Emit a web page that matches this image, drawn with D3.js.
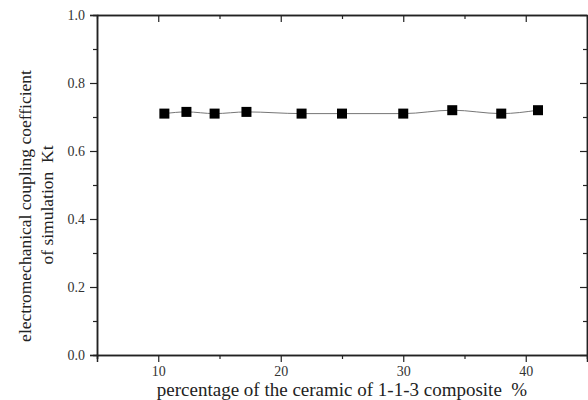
<!DOCTYPE html>
<html>
<head>
<meta charset="utf-8">
<script src="https://cdn.jsdelivr.net/npm/d3@7"></script>
<style>
body { margin: 0; background: #fff; }
text { font-family: "Liberation Serif", "Times New Roman", serif; fill: #222; white-space: pre; }
</style>
</head>
<body>
<svg id="chart" width="588" height="400"></svg>
<script>
// ceramic percentage (%) and simulated Kt
var percent = [10.5, 12.3, 14.6, 17.2, 21.7, 25, 30, 34, 38, 41];
var kt = [0.71, 0.715, 0.71, 0.715, 0.71, 0.71, 0.71, 0.72, 0.71, 0.72];
var xMajor = [10, 20, 30, 40];
var xMinor = [5, 15, 25, 35, 45];
var yMajor = [0, 0.2, 0.4, 0.6, 0.8, 1.0];
var yMinor = [0.1, 0.3, 0.5, 0.7, 0.9];

var serif = '"Liberation Serif", "Times New Roman", serif';

var svg = d3.select('#chart'),
    margin = {top: 15, right: 1, bottom: 45, left: 97},
    width = 588 - margin.left - margin.right,
    height = 400 - margin.top - margin.bottom;

var g = svg.append('g').attr('transform', 'translate(' + margin.left + ',' + margin.top + ')');

var x = d3.scaleLinear().domain([5, 45]).range([0, width]);
var y = d3.scaleLinear().domain([0, 1]).range([height, 0]);

function styleAxis(sel) {
    sel.attr('font-family', serif);
    sel.select('.domain').attr('stroke', '#222').attr('stroke-width', 1.5);
    sel.selectAll('.tick line').attr('stroke', '#222').attr('stroke-width', 1.2);
    sel.selectAll('text').style('font-size', '14px').style('fill', '#333').style('font-family', serif);
}

// bottom axis, ticks outward
g.append('g').attr('transform', 'translate(0,' + height + ')')
    .call(d3.axisBottom(x).tickValues(xMajor).tickSize(7).tickPadding(4).tickFormat(d3.format('d')))
    .call(styleAxis);
g.append('g').attr('transform', 'translate(0,' + height + ')')
    .call(d3.axisBottom(x).tickValues(xMinor).tickSize(4).tickFormat(''))
    .call(styleAxis);

// left axis, ticks outward
g.append('g')
    .call(d3.axisLeft(y).tickValues(yMajor).tickSize(7).tickPadding(5).tickFormat(d3.format('.1f')))
    .call(styleAxis);
g.append('g')
    .call(d3.axisLeft(y).tickValues(yMinor).tickSize(4).tickFormat(''))
    .call(styleAxis);

// top axis, ticks inward
g.append('g')
    .call(d3.axisTop(x).tickValues(xMajor).tickSizeInner(-7).tickSizeOuter(0).tickFormat(''))
    .call(styleAxis);
g.append('g')
    .call(d3.axisTop(x).tickValues(xMinor).tickSizeInner(-4).tickSizeOuter(0).tickFormat(''))
    .call(styleAxis);

// right axis, ticks inward
g.append('g').attr('transform', 'translate(' + width + ',0)')
    .call(d3.axisRight(y).tickValues(yMajor).tickSizeInner(-7).tickSizeOuter(0).tickFormat(''))
    .call(styleAxis);
g.append('g').attr('transform', 'translate(' + width + ',0)')
    .call(d3.axisRight(y).tickValues(yMinor).tickSizeInner(-4).tickSizeOuter(0).tickFormat(''))
    .call(styleAxis);

var pts = percent.map(function (p, i) { return [p, kt[i]]; });

var line = d3.line()
    .x(function (d) { return x(d[0]); })
    .y(function (d) { return y(d[1]); })
    .curve(d3.curveMonotoneX);

g.append('path')
    .datum(pts)
    .attr('fill', 'none')
    .attr('stroke', '#666')
    .attr('stroke-width', 0.9)
    .attr('d', line);

var s = 10;
g.selectAll('rect.pt')
    .data(pts)
    .enter().append('rect')
    .attr('class', 'pt')
    .attr('x', function (d) { return x(d[0]) - s / 2; })
    .attr('y', function (d) { return y(d[1]) - s / 2; })
    .attr('width', s)
    .attr('height', s)
    .attr('fill', '#000');

// axis titles
svg.append('text')
    .attr('x', 342)
    .attr('y', 396)
    .attr('text-anchor', 'middle')
    .style('font-size', '19px')
    .text('percentage of the ceramic of 1-1-3 composite  %');

svg.append('text')
    .attr('transform', 'translate(31,206) rotate(-90)')
    .attr('text-anchor', 'middle')
    .style('font-size', '17.5px')
    .text('electromechanical coupling coefficient');
svg.append('text')
    .attr('transform', 'translate(53,205) rotate(-90)')
    .attr('text-anchor', 'middle')
    .style('font-size', '17.5px')
    .text('of simulation  Kt');
</script>
</body>
</html>
